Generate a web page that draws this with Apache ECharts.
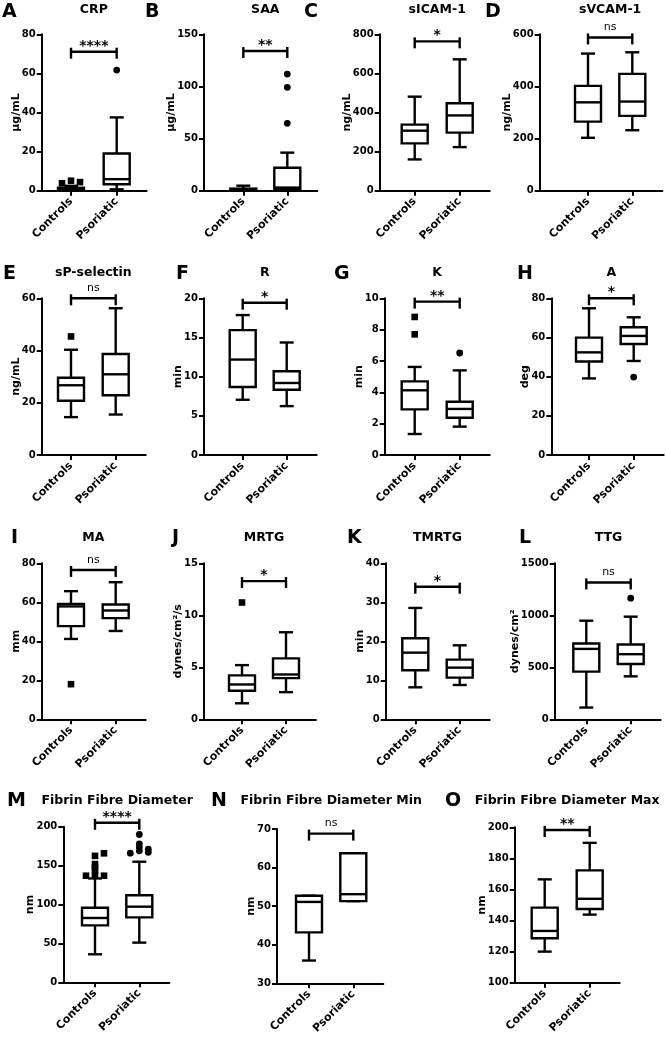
<!DOCTYPE html>
<html><head><meta charset="utf-8">
<script src="https://cdn.jsdelivr.net/npm/echarts@6/dist/echarts.min.js"></script>
<style>html,body{margin:0;padding:0;background:#fff}#c{width:666px;height:1038px}</style>
</head><body><div id="c"></div>
<script>
// ---------- data ----------
const categories = ['Controls', 'Psoriatic'];
const panelLetters = ['A','B','C','D','E','F','G','H','I','J','K','L','M','N','O'];
const panelTitles = ['CRP','SAA','sICAM-1','sVCAM-1','sP-selectin','R','K','A','MA','MRTG','TMRTG','TTG',
  'Fibrin Fibre Diameter','Fibrin Fibre Diameter Min','Fibrin Fibre Diameter Max'];
const yUnits = ['µg/mL','µg/mL','ng/mL','ng/mL','ng/mL','min','min','deg','mm','dynes/cm²/s','min','dynes/cm²','nm','nm','nm'];
const yMin  = [0,0,0,0, 0,0,0,0, 0,0,0,0, 0,30,100];
const yMax  = [80,150,800,600, 60,20,10,80, 80,15,40,1500, 200,70,200];
const yStep = [20,50,200,200, 20,5,2,20, 20,5,10,500, 50,10,20];

// [min, Q1, median, Q3, max]
const controlsBox = [
  [0.2, 0.6, 1.0, 1.5, 2.5],
  [0.1, 0.5, 1.2, 2.0, 4.8],
  [160, 242, 307, 338, 481],
  [203, 265, 339, 402, 526],
  [14.5, 20.8, 26.7, 29.6, 40.3],
  [7.05, 8.68, 12.18, 15.94, 17.86],
  [1.34, 2.91, 4.13, 4.70, 5.62],
  [39.1, 47.7, 52.4, 59.9, 74.9],
  [41.2, 47.8, 57.9, 59.2, 65.7],
  [1.54, 2.74, 3.35, 4.22, 5.21],
  [8.2, 12.56, 17.09, 20.77, 28.55],
  [113, 458, 677, 729, 948],
  [36, 73.2, 82.7, 95.9, 133.5],
  [35.9, 43.2, 51.1, 52.7, 52.7],
  [120, 128.6, 133.3, 148.3, 166.5]
];
const psoriaticBox = [
  [0.7, 3.3, 5.9, 19.0, 37.5],
  [0.3, 1.8, 3.0, 22, 36.5],
  [223, 297, 385, 447, 672],
  [232, 287, 342, 448, 531],
  [15.5, 22.9, 30.9, 38.7, 56.2],
  [6.24, 8.33, 9.19, 10.68, 14.36],
  [1.81, 2.38, 2.94, 3.40, 5.40],
  [48.0, 56.7, 60.8, 65.2, 70.3],
  [45.3, 51.9, 55.8, 58.9, 70.3],
  [2.61, 3.96, 4.31, 5.86, 8.37],
  [8.8, 10.68, 13.25, 15.3, 18.97],
  [413, 532, 626, 719, 987],
  [51, 83.5, 97.2, 111.8, 155],
  [51.3, 51.3, 53.1, 63.7, 63.7],
  [143.8, 147.4, 154, 172.3, 190]
];
const controlsOutliers = [[5.1, 4.4, 3.8], [], [], [], [45.4], [], [8.81, 7.70], [], [18.0], [11.23], [], [],
  [137, 137, 137, 144, 148, 152, 162.5, 165.8], [], []];
const psoriaticOutliers = [[61.7], [64.6, 99.1, 111.9], [], [], [], [], [6.51], [39.8], [], [], [], [1165],
  [190, 178, 174, 171, 169, 167, 166], [], []];
const sigText  = ['****','**','*','ns','ns','*','**','*','ns','*','*','ns','****','ns','**'];
const sigLevel = [71.1, 134, 764, 588, 60, 19.44, 9.79, 80, 76.6, 13.29, 34.0, 1316, 205, 68.8, 198.3];

// ---------- layout (pixels) ----------
const panelAxisX = [41.7, 204, 379.7, 539.7, 41.7, 204, 384.7, 551.3, 41.7, 204, 385.7, 554.7, 63.3, 277, 514.7];
const panelCtrlX = [71, 243.3, 414.7, 588, 71, 242.7, 414.7, 589, 71, 242, 415.3, 586.3, 95, 309, 544.7];
const panelPsorX = [116.7, 287.3, 459.7, 632.3, 115.7, 286.7, 459.7, 633.7, 115.7, 286, 459.7, 630.7, 139.3, 353.3, 589.7];
const panelTop = [34.3,34.3,34.3,34.3, 298.3,298.3,298.3,298.3, 563.3,563.3,563.3,563.3, 826.7,829,827.3];
const panelBottom = [190.7,190.7,190.7,190.7, 455,455,455,455, 719.3,719.3,719.3,719.3, 982.3,983.3,982.7];
const letterX = [2,145,304,485, 3,176,334,517, 11,172,347,519, 7,211,445];
const letterY = [12, 274.5, 538, 801.5];
const titleY = [9.5, 273, 538, 801];

const FONT = 'DejaVu Sans';
const ctx = document.createElement('canvas').getContext('2d');
ctx.font = 'bold 10px "DejaVu Sans"';

function swarm(ys, d, thr) {
  const placed = [], offs = [];
  ys.forEach((y, i) => {
    for (let k = 0; k < 50; k++) {
      const dx = k === 0 ? 0 : (k % 2 ? 1 : -1) * Math.ceil(k / 2) * d;
      if (placed.every(p => Math.abs(p.y - y) >= thr || Math.abs(p.x - dx) >= d * 0.9)) {
        offs[i] = dx; placed.push({x: dx, y: y}); break;
      }
    }
  });
  return offs;
}

const grids = [], xAxes = [], yAxes = [], series = [], graphics = [];
const stroke = {stroke: '#000', lineWidth: 2.4, fill: 'none'};

for (let p = 0; p < 15; p++) {
  const s = panelPsorX[p] - panelCtrlX[p];
  const gL = (panelCtrlX[p] - panelAxisX[p]) / s;
  const gR = 30 / s;
  const W = s * (1 + gL + gR);
  grids.push({left: panelAxisX[p], top: panelTop[p], width: W, height: panelBottom[p] - panelTop[p],
    containLabel: false, outerBoundsMode: 'none'});
  xAxes.push({type: 'value', gridIndex: p, min: -gL, max: 1 + gR,
    axisLine: {show: true, onZero: false, lineStyle: {color: '#000', width: 2}},
    splitLine: {show: false},
    axisTick: {show: true, customValues: [0, 1], length: 5, lineStyle: {color: '#000', width: 2}},
    axisLabel: {customValues: [0, 1], formatter: v => categories[Math.round(v)], rotate: 45, margin: 9,
      padding: [6, 0, 0, 0],
      color: '#000', fontFamily: FONT, fontWeight: 'bold', fontSize: 11}
  });
  let w = 0;
  for (let v = yMin[p]; v <= yMax[p] + 1e-9; v += yStep[p]) w = Math.max(w, ctx.measureText(String(v)).width);
  yAxes.push({type: 'value', gridIndex: p, min: yMin[p], max: yMax[p], interval: yStep[p],
    axisLine: {show: true, onZero: false, lineStyle: {color: '#000', width: 2}},
    splitLine: {show: false},
    axisTick: {show: true, length: 5, lineStyle: {color: '#000', width: 2}},
    axisLabel: {margin: 6, formatter: v => String(v), color: '#000', fontFamily: FONT, fontWeight: 'bold', fontSize: 10},
    name: yUnits[p], nameLocation: 'middle', nameRotate: 90, nameGap: 6 + w + 0.5,
    nameMoveOverlap: false,
    nameTextStyle: {color: '#000', fontFamily: FONT, fontWeight: 'bold', fontSize: 11}
  });

  // boxes
  series.push({type: 'custom', xAxisIndex: p, yAxisIndex: p, clip: false, z: 2,
    data: [[0].concat(controlsBox[p]), [1].concat(psoriaticBox[p])],
    encode: {x: 0, y: [1, 2, 3, 4, 5]},
    renderItem: function (params, api) {
      const cat = api.value(0);
      const pts = [1, 2, 3, 4, 5].map(k => api.coord([cat, api.value(k)]));
      const x = pts[2][0];
      const yLo = pts[0][1], yQ1 = pts[1][1], yMed = pts[2][1], yQ3 = pts[3][1], yHi = pts[4][1];
      const hw = 13, cw = 7;
      return {type: 'group', children: [
        {type: 'line', shape: {x1: x, y1: yQ3, x2: x, y2: yHi}, style: stroke},
        {type: 'line', shape: {x1: x - cw, y1: yHi, x2: x + cw, y2: yHi}, style: stroke},
        {type: 'line', shape: {x1: x, y1: yQ1, x2: x, y2: yLo}, style: stroke},
        {type: 'line', shape: {x1: x - cw, y1: yLo, x2: x + cw, y2: yLo}, style: stroke},
        {type: 'rect', shape: {x: x - hw, y: yQ3, width: 2 * hw, height: yQ1 - yQ3}, style: {stroke: '#000', lineWidth: 2.4, fill: '#fff'}},
        {type: 'line', shape: {x1: x - hw, y1: yMed, x2: x + hw, y2: yMed}, style: stroke}
      ]};
    }
  });

  // outliers
  const od = controlsOutliers[p].map((v, j) => [0, v, j]).concat(psoriaticOutliers[p].map((v, j) => [1, v, j]));
  series.push({type: 'custom', xAxisIndex: p, yAxisIndex: p, clip: false, z: 3,
    data: od, encode: {x: 0, y: 1},
    renderItem: (function (pi) { return function (params, api) {
      const cat = api.value(0), j = api.value(2);
      const list = cat === 0 ? controlsOutliers[pi] : psoriaticOutliers[pi];
      const ys = list.map(v => api.coord([cat, v])[1]);
      const offs = swarm(ys, 9, 3);
      const pt = api.coord([cat, api.value(1)]);
      const x = pt[0] + offs[j], y = pt[1];
      if (cat === 0) return {type: 'rect', shape: {x: x - 3.3, y: y - 3.3, width: 6.6, height: 6.6}, style: {fill: '#000'}};
      return {type: 'circle', shape: {cx: x, cy: y, r: 3.4}, style: {fill: '#000'}};
    }; })(p)
  });

  // significance bracket
  series.push({type: 'custom', xAxisIndex: p, yAxisIndex: p, clip: false, z: 3,
    data: [[0, sigLevel[p]]], encode: {x: 0, y: 1},
    renderItem: (function (pi) { return function (params, api) {
      const lv = api.value(1);
      const a = api.coord([0, lv]), b = api.coord([1, lv]);
      const isNs = sigText[pi] === 'ns';
      return {type: 'group', children: [
        {type: 'line', shape: {x1: a[0], y1: a[1], x2: b[0], y2: b[1]}, style: stroke},
        {type: 'line', shape: {x1: a[0], y1: a[1] - 4, x2: a[0], y2: a[1] + 7}, style: stroke},
        {type: 'line', shape: {x1: b[0], y1: b[1] - 4, x2: b[0], y2: b[1] + 7}, style: stroke},
        {type: 'text', x: (a[0] + b[0]) / 2, y: a[1] - (isNs ? 10 : 5.5),
          style: {text: sigText[pi], fill: '#000', fontFamily: FONT,
            fontWeight: isNs ? 'normal' : 'bold', fontSize: isNs ? 11 : 14,
            align: 'center', verticalAlign: 'middle'}}
      ]};
    }; })(p)
  });

  const row = Math.floor(p / 4);
  graphics.push({type: 'text', x: letterX[p], y: letterY[row],
    style: {text: panelLetters[p], fill: '#000', fontFamily: FONT, fontWeight: 'bold', fontSize: 19,
      align: 'left', verticalAlign: 'middle'}});
  graphics.push({type: 'text', x: (panelCtrlX[p] + panelPsorX[p]) / 2, y: titleY[row],
    style: {text: panelTitles[p], fill: '#000', fontFamily: FONT, fontWeight: 'bold', fontSize: 12.5,
      align: 'center', verticalAlign: 'middle'}});
}

const chart = echarts.init(document.getElementById('c'), null, {renderer: 'canvas'});
chart.setOption({
  animation: false,
  backgroundColor: '#fff',
  grid: grids, xAxis: xAxes, yAxis: yAxes, series: series, graphic: graphics
});
</script></body></html>
